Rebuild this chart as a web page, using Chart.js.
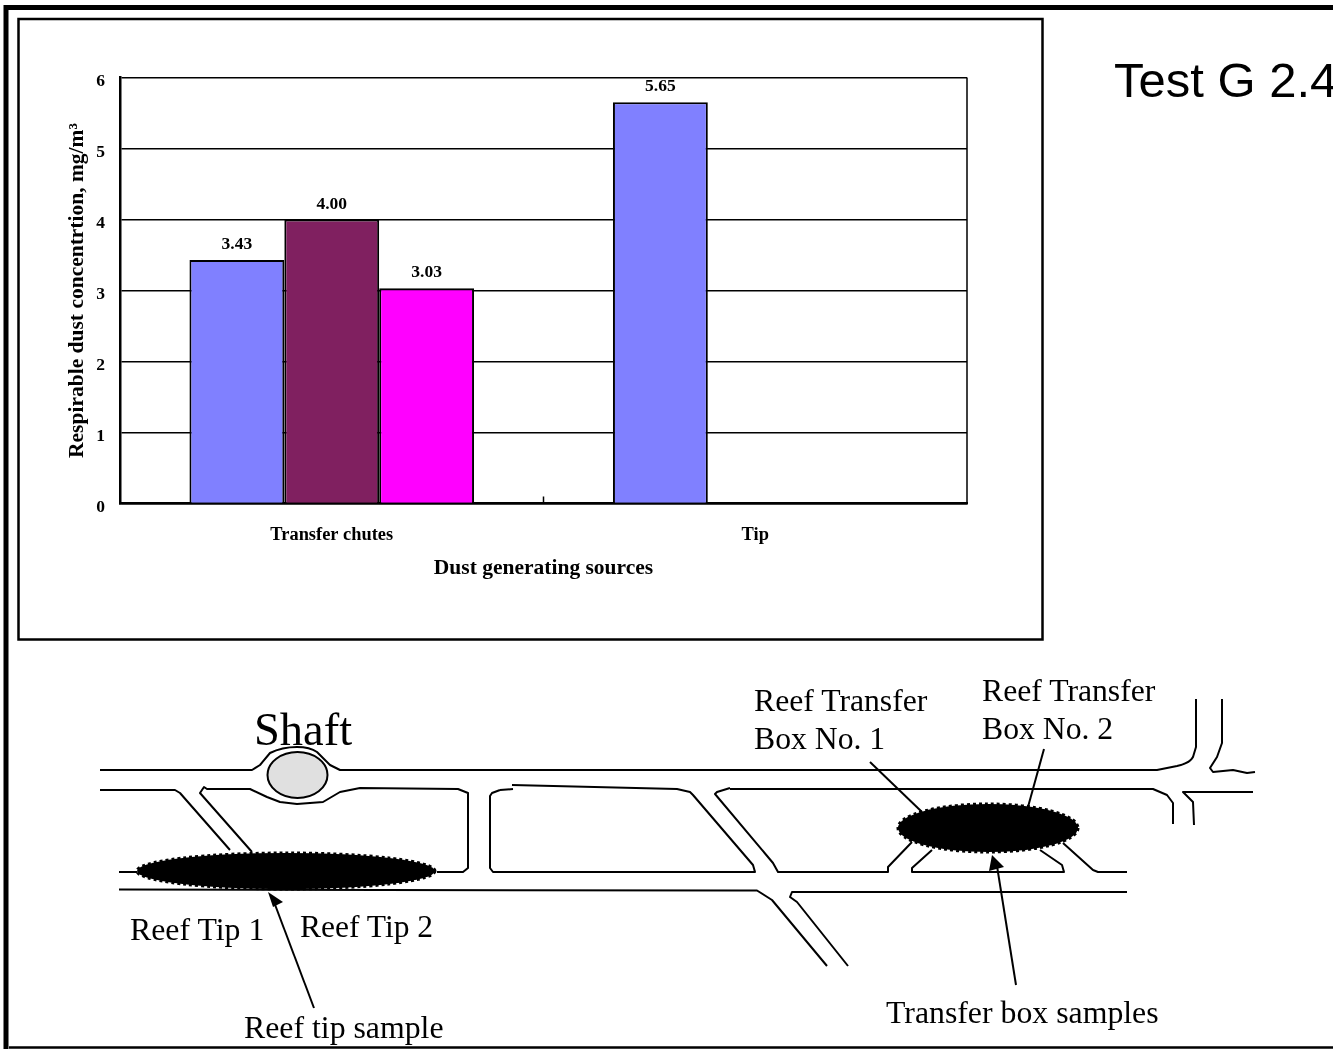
<!DOCTYPE html>
<html>
<head>
<meta charset="utf-8">
<title>Test G 2.4</title>
<script src="https://cdn.jsdelivr.net/npm/chart.js@4"></script>
<style>
  html, body { margin: 0; padding: 0; background: #fff; }
  #page { position: relative; width: 1333px; height: 1049px; overflow: hidden; }
  #myChart { position: absolute; left: 0; top: 0; }
  #drawing { position: absolute; left: 0; top: 0; }
  #drawing text { font-family: "Liberation Serif", serif; fill: #000; }
  #drawing .mine { fill: none; stroke: #000; stroke-width: 2; stroke-linejoin: round; }
</style>
</head>
<body>
<div id="page">
  <canvas id="myChart" width="1040" height="636"></canvas>
  <svg id="drawing" width="1333" height="1049" viewBox="0 0 1333 1049">
    <!-- page frame and chart box -->
    <path d="M6 1049 V7.5 H1333" fill="none" stroke="#000" stroke-width="5"/>
    <path d="M9 1047.5 H1333" fill="none" stroke="#000" stroke-width="2.5"/>
    <rect x="18.5" y="19" width="1024" height="620.5" fill="none" stroke="#000" stroke-width="2.5"/>
    <text x="1114" y="97" style="font-family:'Liberation Sans',sans-serif;font-size:49px">Test G 2.4</text>

    <!-- mine plan -->
    <path class="mine" d="M100 770 H252 L260 765 L270 753 Q282 747 297 747 Q310 747 317 752 L330 765 L340 770 H1157 L1177 766 Q1190 763 1193 757 L1196 747 V699"/>
    <path class="mine" d="M1222 699 V743 L1217 757 L1210 768 L1213 772 L1233 770 L1247 773 L1255 772"/>
    <path class="mine" d="M100 790 H175 L180 793 L230 850"/>
    <path class="mine" d="M252 852 L200 793 L204 787 L207 789 H250 L267 797 L280 802 L297 804 L323 802 L340 792 L360 788 L458 789 L468 793 V868 L463 872 H437"/>
    <path class="mine" d="M119 872 H137"/>
    <path class="mine" d="M119 889.5 L740 890.5 H757 L772 900 L827 966"/>
    <path class="mine" d="M848 966 L797 902 L790 897 L792 892 H1127"/>
    <path class="mine" d="M500 790 L492 793 L490 796 V868 L493 872 H755 L753 865 L693 795 L690 792 L677 789 L512 785"/>
    <path class="mine" d="M513 789 L500 790"/>
    <path class="mine" d="M730 788 L717 792 L715 794 L773 863 L778 872 H888 V867 L912 842"/>
    <path class="mine" d="M730 789 H1120 L1153 789 L1167 795 L1173 803 V824"/>
    <path class="mine" d="M1253 792 H1183 L1193 802 L1194 825"/>
    <path class="mine" d="M932 850 L912 868 V872 H1064 L1062 865 L1040 850"/>
    <path class="mine" d="M1063 843 L1093 870 L1098 872 H1127"/>
    <ellipse cx="297.5" cy="775" rx="30" ry="23" fill="#e0e0e0" stroke="#000" stroke-width="2"/>

    <!-- sample clouds -->
    <ellipse cx="286" cy="871" rx="149" ry="18" fill="#000" stroke="#000" stroke-width="3" stroke-dasharray="3 3"/>
    <ellipse cx="988" cy="828" rx="90" ry="24" fill="#000" stroke="#000" stroke-width="3" stroke-dasharray="3 3"/>

    <!-- leaders and arrows -->
    <path class="mine" d="M870 762 L922 812"/>
    <path class="mine" d="M1044 749 L1028 807"/>
    <path class="mine" d="M314 1008 L274 902"/>
    <path d="M268 892 L283 902 L273 907 Z" fill="#000"/>
    <path class="mine" d="M1016 985 L997 866"/>
    <path d="M992 855 L1004 867 L989 871 Z" fill="#000"/>

    <text x="254" y="745" style="font-size:46.5px">Shaft</text>
    <text x="754" y="711" style="font-size:31.7px">Reef Transfer</text>
    <text x="754" y="749" style="font-size:31.7px">Box No. 1</text>
    <text x="982" y="701" style="font-size:31.7px">Reef Transfer</text>
    <text x="982" y="739" style="font-size:31.7px">Box No. 2</text>
    <text x="130" y="940" style="font-size:31.8px">Reef Tip 1</text>
    <text x="300" y="937" style="font-size:31.5px">Reef Tip 2</text>
    <text x="244" y="1038" style="font-size:31.8px">Reef tip sample</text>
    <text x="886" y="1023" style="font-size:31.8px">Transfer box samples</text>
  </svg>
</div>

<script>
const categories = ['Transfer chutes', 'Tip']
const series1 = [3.43, 5.65]
const series2 = [4.00, null]
const series3 = [3.03, null]
const yTicks = [0, 1, 2, 3, 4, 5, 6]

const serif = '"Liberation Serif", serif'

// value labels over the bars, the right edge of the plot and the middle tick
const extras = {
    id: 'extras',
    afterDatasetsDraw(chart) {
        const ctx = chart.ctx
        const area = chart.chartArea
        const x = chart.scales.x

        ctx.save()
        ctx.strokeStyle = '#000'
        ctx.lineWidth = 1.5
        ctx.beginPath()
        ctx.moveTo(area.right, area.top)
        ctx.lineTo(area.right, area.bottom)
        let mid = (x.getPixelForValue(0) + x.getPixelForValue(1)) / 2
        ctx.moveTo(mid, area.bottom)
        ctx.lineTo(mid, area.bottom - 7)
        ctx.stroke()

        ctx.fillStyle = '#000'
        ctx.font = 'bold 17.5px ' + serif
        ctx.textAlign = 'center'
        ctx.textBaseline = 'middle'
        chart.data.datasets.forEach((ds, i) => {
            chart.getDatasetMeta(i).data.forEach((bar, j) => {
                if (ds.data[j] === null) return
                ctx.fillText(ds.data[j].toFixed(2), bar.x, bar.y - 15.5)
            })
        })
        ctx.restore()
    }
}

const abc = document.getElementById('myChart')
const myChart = new Chart(abc, {
    type: 'bar',
    data: {
        labels: categories,
        datasets: [
            { data: series1, backgroundColor: '#8080ff', borderColor: '#000', borderWidth: 2 },
            { data: series2, backgroundColor: '#802060', borderColor: '#000', borderWidth: 2 },
            { data: series3, backgroundColor: '#ff00ff', borderColor: '#000', borderWidth: 2 }
        ]
    },
    plugins: [extras],
    options: {
        responsive: false,
        animation: false,
        categoryPercentage: 0.672,
        barPercentage: 1,
        layout: { padding: { left: 60, top: 77.5, right: 73, bottom: 54.5 } },
        plugins: { legend: { display: false }, tooltip: { enabled: false } },
        scales: {
            x: {
                grid: { display: false },
                border: { color: '#000', width: 2.5 },
                ticks: {
                    color: '#000',
                    padding: 13,
                    maxRotation: 0,
                    font: { family: serif, weight: 'bold', size: 18.4 }
                },
                title: {
                    display: true,
                    text: 'Dust generating sources',
                    color: '#000',
                    padding: 0,
                    font: { family: serif, weight: 'bold', size: 21.5 }
                },
                afterFit(scale) { scale.height = 78 }
            },
            y: {
                min: 0,
                max: 6,
                afterBuildTicks(scale) { scale.ticks = yTicks.map(v => ({ value: v })) },
                grid: { color: '#000', lineWidth: 1.5, drawTicks: false },
                border: { color: '#000', width: 2.5 },
                ticks: {
                    color: '#000',
                    padding: 15,
                    // empty first line drops the number a little below its grid line
                    callback: v => ['', String(v)],
                    font: { family: serif, weight: 'bold', size: 17.5, lineHeight: '7px' }
                },
                title: {
                    display: true,
                    text: 'Respirable dust concentrtion, mg/m³',
                    color: '#000',
                    padding: { top: 5, bottom: 0 },
                    font: { family: serif, weight: 'bold', size: 21.5 }
                },
                afterFit(scale) { scale.width = 60 }
            }
        }
    }
})
</script>
</body>
</html>
